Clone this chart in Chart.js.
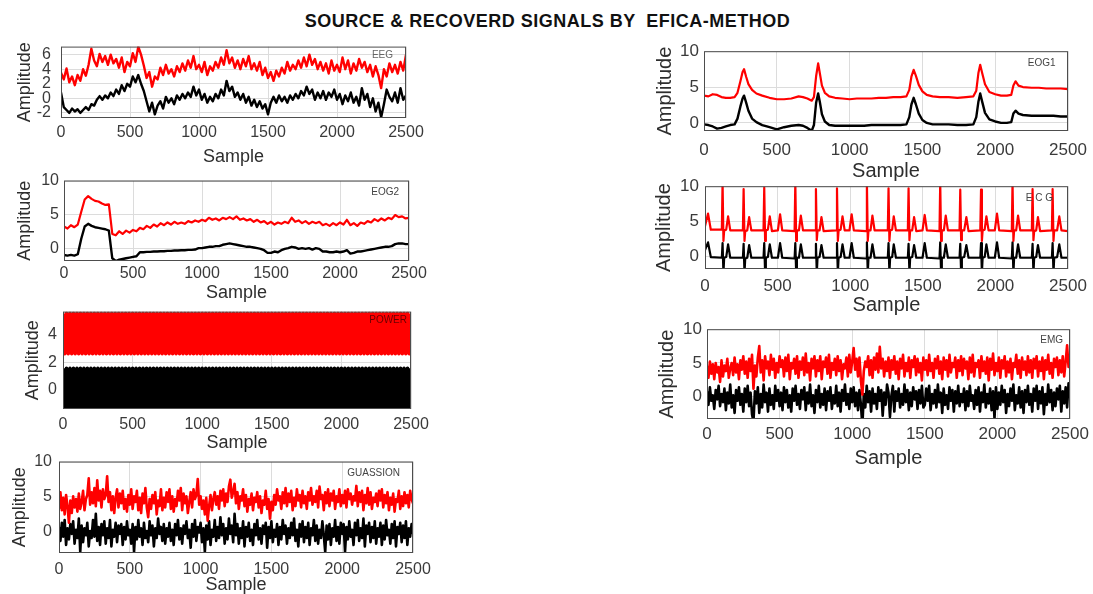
<!DOCTYPE html>
<html><head><meta charset="utf-8">
<script src="https://cdn.jsdelivr.net/npm/chart.js@4.4.1/dist/chart.umd.min.js"></script>
<style>
html,body{margin:0;padding:0;background:#fff;}
body{width:1093px;height:594px;overflow:hidden;position:relative;font-family:"Liberation Sans",Arial,Helvetica,sans-serif;}
#title{position:absolute;left:0;top:12px;width:1095px;text-align:center;font-weight:bold;font-size:18px;line-height:18px;letter-spacing:0.5px;color:#111;white-space:pre;}
canvas{position:absolute;}
</style></head>
<body>
<div id="title">SOURCE &amp; RECOVERD SIGNALS BY  EFICA-METHOD</div>
<canvas id="cEEG"></canvas><canvas id="cEOG2"></canvas><canvas id="cPOWER"></canvas><canvas id="cGUASS"></canvas>
<canvas id="cEOG1"></canvas><canvas id="cECG"></canvas><canvas id="cEMG"></canvas>
<script>
// ---------- tick labels ----------
const xTicks = [0, 500, 1000, 1500, 2000, 2500];
const eegTicks = [-2, 0, 2, 4, 6];
const tenTicks = [0, 5, 10];
const powerTicks = [0, 2, 4];

// ---------- EEG (one value every 20 samples) ----------
const eegRecovered = [3.5,2.6,4.1,2.2,3.0, 1.8,3.2,2.4,4.0,3.1, 4.6,6.8,5.2,4.4,6.1, 5.0,5.8,4.6,6.0,4.8,
 5.4,4.2,5.6,3.6,5.0, 4.4,6.2,5.0,7.1,6.0, 4.5,2.8,3.6,1.6,3.0, 2.6,4.2,3.2,4.6,3.4, 4.0,3.0,4.4,3.6,4.8,
 3.8,5.2,4.2,5.8,4.0, 4.6,3.6,5.0,3.2,4.4, 3.8,5.0,4.2,5.6,4.6, 6.6,4.8,5.6,4.2,5.2, 4.0,5.4,4.4,5.8,4.0,
 4.8,3.8,5.0,3.2,4.2, 2.8,3.6,2.4,3.8,3.0, 4.2,3.4,5.0,3.8,4.6, 4.0,5.2,4.2,5.6,4.4, 6.0,4.6,5.4,4.0,5.0,
 3.8,4.8,3.4,5.2,3.8, 4.6,3.6,5.6,4.0,5.2, 3.4,4.8,3.8,5.4,4.2, 5.0,3.6,4.6,3.0,4.4, 3.2,1.4,4.0,3.0,4.8,
 3.6,4.6,3.4,5.0,3.8, 6.0];
const eegSource = [0.8,-1.2,-1.6,-2.0,-1.4, -1.8,-1.5,-2.0,-1.6,-1.2, -1.6,-0.8,-1.0,-0.2,0.3, -0.2,0.4,0.0,0.8,0.3,
 1.2,0.6,1.8,1.0,2.0, 1.6,3.0,2.2,3.2,2.0, 1.0,-0.4,-1.8,-0.6,-2.2, -1.0,-0.4,-1.4,0.2,-0.6, 0.0,-0.8,0.4,-0.2,0.6,
 0.0,0.8,0.2,1.6,0.4, 1.2,-0.2,0.6,-0.6,0.2, -0.4,0.6,0.0,1.2,0.4, 2.4,1.0,1.6,0.2,0.8, -0.2,0.6,-0.6,0.2,-1.0,
 -0.2,-1.2,-0.4,-1.4,-0.8, -2.2,-0.6,0.2,-0.6,0.4, -0.4,0.2,-0.6,0.4,-0.2, 0.6,0.0,1.0,0.4,1.6, 0.6,1.2,-0.2,0.8,0.0,
 1.0,-0.2,0.8,0.2,1.2, -0.2,0.6,-0.8,0.4,-0.4, 0.8,-0.6,0.2,-1.0,1.4, -0.2,0.6,-1.2,0.0,-1.8, -0.6,-2.6,-0.8,1.2,0.2,
 -0.4,0.8,-0.6,1.4,-0.2, 0.4];

// ---------- EOG2 (one value every 25 samples) ----------
const eog2Recovered = [3.2,2.9,3.4,3.1,3.5,5.4,7.2,7.7,7.3,7.0,6.9,6.6,6.4,6.5,2.1,1.9,2.5,2.1,2.6,2.3,
 2.7,2.5,3.0,2.8,3.3,3.0,3.5,3.2,3.7,3.4,3.8,3.5,3.9,3.6,3.8,3.6,4.0,3.8,4.1,3.9,
 4.2,4.0,4.5,4.2,4.4,4.1,4.5,4.3,4.6,4.3,4.7,4.2,4.4,4.1,4.3,3.9,4.2,3.8,4.0,3.6,
 3.9,3.5,3.8,3.6,3.9,3.7,4.5,3.9,4.1,3.7,4.0,3.6,3.9,3.7,3.9,3.4,3.6,3.3,3.7,3.4,
 3.8,3.5,4.2,3.4,3.7,3.3,3.8,3.6,4.0,3.8,4.3,4.0,4.4,4.1,4.5,4.3,4.9,4.6,4.7,4.4,4.5];
const eog2Source = [-1.0,-1.1,-1.0,-1.1,-0.9,1.4,3.2,3.6,3.3,3.1,3.0,2.9,2.8,2.6,-1.5,-1.9,-1.7,-1.6,-1.5,-1.4,
 -1.3,-1.2,-0.6,-0.6,-0.55,-0.55,-0.5,-0.5,-0.45,-0.45,-0.4,-0.4,-0.35,-0.35,-0.3,-0.3,-0.25,-0.25,-0.2,0.0,
 0.0,0.1,0.2,0.2,0.3,0.3,0.5,0.6,0.7,0.6,0.5,0.4,0.3,0.2,0.2,0.1,0.0,-0.1,-0.3,-0.7,
 -0.7,-0.5,-0.6,-0.3,-0.1,0.0,0.2,0.1,-0.1,0.0,-0.1,0.0,-0.2,0.0,-0.1,-0.5,-0.5,-0.6,-0.6,-0.5,
 -0.6,-0.5,-0.3,-0.8,-0.7,-0.5,-0.5,-0.4,-0.3,-0.2,-0.1,0.0,0.1,0.2,0.2,0.3,0.6,0.7,0.7,0.6,0.6];

// ---------- POWER (one value every 12.5 samples) ----------
const powerRecovered = [
5.5,2.6,5.5,2.6,5.5,2.6,5.5,2.6,5.5,2.6,5.5,2.6,5.5,2.6,5.5,2.6,5.5,2.6,5.5,2.6,
5.5,2.6,5.5,2.6,5.5,2.6,5.5,2.6,5.5,2.6,5.5,2.6,5.5,2.6,5.5,2.6,5.5,2.6,5.5,2.6,
5.5,2.6,5.5,2.6,5.5,2.6,5.5,2.6,5.5,2.6,5.5,2.6,5.5,2.6,5.5,2.6,5.5,2.6,5.5,2.6,
5.5,2.6,5.5,2.6,5.5,2.6,5.5,2.6,5.5,2.6,5.5,2.6,5.5,2.6,5.5,2.6,5.5,2.6,5.5,2.6,
5.5,2.6,5.5,2.6,5.5,2.6,5.5,2.6,5.5,2.6,5.5,2.6,5.5,2.6,5.5,2.6,5.5,2.6,5.5,2.6,
5.5,2.6,5.5,2.6,5.5,2.6,5.5,2.6,5.5,2.6,5.5,2.6,5.5,2.6,5.5,2.6,5.5,2.6,5.5,2.6,
5.5,2.6,5.5,2.6,5.5,2.6,5.5,2.6,5.5,2.6,5.5,2.6,5.5,2.6,5.5,2.6,5.5,2.6,5.5,2.6,
5.5,2.6,5.5,2.6,5.5,2.6,5.5,2.6,5.5,2.6,5.5,2.6,5.5,2.6,5.5,2.6,5.5,2.6,5.5,2.6,
5.5,2.6,5.5,2.6,5.5,2.6,5.5,2.6,5.5,2.6,5.5,2.6,5.5,2.6,5.5,2.6,5.5,2.6,5.5,2.6,
5.5,2.6,5.5,2.6,5.5,2.6,5.5,2.6,5.5,2.6,5.5,2.6,5.5,2.6,5.5,2.6,5.5,2.6,5.5,2.6,
5.5];
const powerSource = [
1.55,-1.3,1.55,-1.3,1.55,-1.3,1.55,-1.3,1.55,-1.3,1.55,-1.3,1.55,-1.3,1.55,-1.3,1.55,-1.3,1.55,-1.3,
1.55,-1.3,1.55,-1.3,1.55,-1.3,1.55,-1.3,1.55,-1.3,1.55,-1.3,1.55,-1.3,1.55,-1.3,1.55,-1.3,1.55,-1.3,
1.55,-1.3,1.55,-1.3,1.55,-1.3,1.55,-1.3,1.55,-1.3,1.55,-1.3,1.55,-1.3,1.55,-1.3,1.55,-1.3,1.55,-1.3,
1.55,-1.3,1.55,-1.3,1.55,-1.3,1.55,-1.3,1.55,-1.3,1.55,-1.3,1.55,-1.3,1.55,-1.3,1.55,-1.3,1.55,-1.3,
1.55,-1.3,1.55,-1.3,1.55,-1.3,1.55,-1.3,1.55,-1.3,1.55,-1.3,1.55,-1.3,1.55,-1.3,1.55,-1.3,1.55,-1.3,
1.55,-1.3,1.55,-1.3,1.55,-1.3,1.55,-1.3,1.55,-1.3,1.55,-1.3,1.55,-1.3,1.55,-1.3,1.55,-1.3,1.55,-1.3,
1.55,-1.3,1.55,-1.3,1.55,-1.3,1.55,-1.3,1.55,-1.3,1.55,-1.3,1.55,-1.3,1.55,-1.3,1.55,-1.3,1.55,-1.3,
1.55,-1.3,1.55,-1.3,1.55,-1.3,1.55,-1.3,1.55,-1.3,1.55,-1.3,1.55,-1.3,1.55,-1.3,1.55,-1.3,1.55,-1.3,
1.55,-1.3,1.55,-1.3,1.55,-1.3,1.55,-1.3,1.55,-1.3,1.55,-1.3,1.55,-1.3,1.55,-1.3,1.55,-1.3,1.55,-1.3,
1.55,-1.3,1.55,-1.3,1.55,-1.3,1.55,-1.3,1.55,-1.3,1.55,-1.3,1.55,-1.3,1.55,-1.3,1.55,-1.3,1.55,-1.3,
1.55];

// ---------- GUASSION (one value every 10 samples) ----------
const guassRecovered = [
3.2,5.6,3.0,4.8,2.4,5.2,3.6,1.2,4.4,2.6,5.0,3.4,4.6,2.8,5.4,3.2,4.2,5.8,3.0,4.6,5.2,7.6,3.8,5.6,4.0,
6.2,3.6,7.3,4.4,5.8,3.4,6.0,4.6,5.2,7.9,4.2,5.6,3.0,5.0,2.6,4.8,6.0,3.4,5.4,4.0,5.8,3.2,4.6,2.8,5.2,
3.8,6.0,3.2,5.0,4.2,5.8,3.0,4.8,2.6,5.4,4.0,6.2,3.4,2.0,4.6,3.2,5.2,4.0,5.6,2.4,4.4,3.6,6.0,3.0,4.8,
3.4,5.6,4.2,6.0,3.2,5.0,2.8,4.6,3.6,5.8,4.4,6.2,3.0,5.4,4.0,5.0,2.6,4.2,5.6,3.4,6.0,4.6,5.2,7.5,3.8,
5.0,3.2,4.4,2.4,4.8,1.5,3.6,5.2,3.0,4.6,5.6,3.8,5.0,3.2,5.8,4.4,6.0,3.6,5.4,4.2,6.4,7.4,4.8,5.6,6.8,
4.0,5.6,3.2,5.0,4.4,6.0,3.6,5.2,2.8,4.6,3.8,5.4,3.0,4.8,4.2,5.6,3.4,5.0,2.6,4.4,3.8,5.8,3.2,4.6,1.8,
4.2,3.0,5.2,3.8,6.0,4.4,5.0,3.2,5.6,4.0,6.2,3.6,5.4,4.2,5.8,3.0,4.8,3.6,6.0,4.4,5.2,3.4,5.8,4.0,5.0,
3.2,5.6,4.4,6.2,3.8,5.0,4.2,5.8,3.4,6.4,4.6,5.2,3.0,5.6,4.0,6.0,3.6,5.4,4.4,5.8,3.2,5.0,4.2,6.0,3.6,
5.2,4.0,5.8,3.4,6.0,4.6,5.4,3.8,5.0,4.4,6.5,3.6,5.6,4.2,5.8,3.0,5.2,4.0,6.2,3.8,5.6,3.2,4.8,4.2,5.4,
3.6,5.8,4.4,6.0,3.4,5.2,4.0,5.6,3.0,4.8,3.8,5.4,2.8,4.6,4.2,5.8,3.2,5.0,3.6,5.6,4.0,5.2,3.4,5.8,4.6,
4.0];
const guassSource = [
0.6,-1.4,1.2,-0.8,1.6,-2.0,0.4,-1.2,1.0,-0.4,1.4,-1.8,0.2,-1.0,1.8,-3.0,0.8,-1.6,0.4,-0.6,1.2,-2.2,0.0,-1.0,1.6,
-0.8,2.5,-1.4,0.6,-2.0,1.0,-0.6,1.4,-1.8,0.4,-1.0,1.6,-2.2,0.2,-0.8,1.2,-1.6,0.8,-0.4,1.0,-2.0,0.6,-1.2,1.4,-0.6,
0.2,-1.8,1.0,-3.0,0.6,-1.2,1.6,-0.8,0.4,-2.0,1.2,-1.0,0.0,-1.6,1.4,-0.6,0.8,-2.2,0.4,-1.0,1.8,-0.4,0.6,-1.4,1.0,
-1.8,0.4,-0.8,1.2,-1.4,0.2,-2.0,1.0,-0.6,1.6,-1.2,0.4,-1.8,0.8,-0.4,1.4,-1.0,0.2,-2.4,1.0,-0.8,1.6,-1.4,0.6,-0.2,
1.2,-1.6,0.4,-3.0,0.8,-1.2,1.4,-2.0,0.2,-0.8,1.6,-1.4,0.6,-1.0,2.0,-0.6,1.0,-1.8,0.4,-1.2,1.8,-0.4,0.8,-1.6,2.5,
-0.6,1.0,-1.8,0.4,-1.0,1.4,-2.2,0.6,-0.8,1.2,-1.4,0.2,-2.0,1.0,-0.6,1.6,-1.2,0.4,-1.8,0.8,-0.4,1.2,-2.4,0.6,-1.0,
1.4,-1.6,0.2,-0.8,1.0,-2.0,0.6,-1.2,1.6,-0.4,0.8,-1.8,0.4,-1.0,1.2,-0.6,1.8,-1.4,0.2,-2.2,1.0,-0.8,1.4,-1.6,0.6,
-1.0,1.2,-2.0,0.4,-0.6,1.6,-1.4,0.8,-1.8,0.2,-1.0,1.4,-0.6,-3.0,0.8,-1.2,1.0,-2.0,0.4,-0.8,1.6,-1.4,0.6,-1.8,1.2,
-0.4,1.0,-3.0,0.6,-1.2,1.4,-0.8,0.2,-2.0,1.2,-0.6,1.6,-1.4,0.4,-1.0,1.8,-2.2,0.8,-0.4,1.2,-1.6,0.6,-1.0,1.4,-1.8,
0.4,-0.8,1.2,-2.0,0.8,-1.2,1.6,-0.6,0.2,-1.8,1.0,-1.0,1.4,-2.2,0.6,-0.4,1.2,-1.6,0.8,-1.0,1.4,-2.0,0.4,-0.8,1.0,
-0.4];

// ---------- EOG1 (sample positions + values) ----------
const eog1Samples = [0,30,60,90,120,150,180,210, 230,250,265,275,290,305,330,360, 400,450,500,550,600,650,680,710,
 740,755,770,784,795,810,830,860, 900,950,1000,1050,1100,1150,1200,1250, 1300,1350,1390,1410,1425,1440,1455,1475,
 1500,1530,1570,1620,1680,1740,1800,1850, 1870,1885,1897,1910,1930,1960,2000,2040, 2080,2110,2125,2140,2160,2190,2250,2300,
 2350,2400,2450,2500];
const eog1Recovered = [3.8,3.7,4.0,3.9,3.6,3.5,3.5,3.6, 4.2,5.8,7.1,7.5,6.4,5.4,4.6,4.1, 3.8,3.5,3.3,3.3,3.4,3.7,3.6,3.4,
 3.1,3.6,6.5,8.3,7.0,5.2,4.2,3.7, 3.5,3.4,3.3,3.4,3.4,3.4,3.5,3.5, 3.6,3.6,3.7,4.6,6.5,7.4,6.6,5.3,
 4.4,3.9,3.7,3.6,3.6,3.5,3.6,3.7, 4.5,7.0,8.1,7.0,5.4,4.3,4.0,3.8, 3.8,3.9,5.2,5.8,5.2,5.0,4.9,4.9,
 4.8,4.8,4.8,4.7];
const eog1Source = [-0.2,-0.3,-0.5,-0.8,-0.7,-0.5,-0.3,-0.2, 0.6,2.3,3.4,3.8,2.8,1.7,0.6,0.1, -0.3,-0.6,-0.9,-0.6,-0.4,-0.3,-0.4,-0.7,
 -1.1,-0.3,2.8,4.1,3.0,1.2,0.2,-0.3, -0.4,-0.4,-0.4,-0.4,-0.4,-0.3,-0.3,-0.3, -0.3,-0.3,-0.2,0.8,2.6,3.5,2.6,1.3,
 0.4,0.0,-0.2,-0.2,-0.2,-0.3,-0.3,-0.2, 0.8,3.0,4.1,3.0,1.4,0.5,0.2,0.0, 0.0,0.1,1.3,1.7,1.3,1.1,1.0,1.0,
 1.0,1.0,0.9,0.9];

// ---------- ECG (sample positions + values) ----------
const ecgSamples = [0,21,40,
 116,121,127,132,146,159,174, 261,266,272,277,291,304,319, 403,408,414,419,433,446,461, 502,517,532,
 617,622,628,633,647,660,675, 759,764,770,775,789,802,817, 904,909,915,920,934,947,962, 995,1010,1025,
 1110,1115,1121,1126,1140,1153,1168, 1259,1264,1270,1275,1289,1300,1315, 1397,1402,1408,1413,1427,1440,1455, 1498,1513,1528,
 1615,1620,1626,1631,1645,1658,1673, 1753,1758,1764,1769,1785,1800,1815, 1896,1901,1907,1912,1926,1938,1953, 1996,2011,2026,
 2113,2118,2124,2129,2143,2156,2171, 2251,2256,2262,2267,2281,2293,2308, 2389,2394,2400,2405,2425,2440,2455,
 2500];
const ecgRecovered = [4.3,6.1,3.8,
 3.8,10.6,2.2,3.7,3.8,5.7,3.7, 3.7,9.6,2.2,3.6,3.7,5.6,3.7, 3.7,9.8,2.2,3.7,3.8,5.7,3.6, 3.7,6.0,3.7,
 3.6,10.6,2.2,3.7,3.7,5.8,3.7, 3.7,9.6,2.3,3.7,3.7,5.6,3.6, 3.7,9.7,2.2,3.7,3.8,5.7,3.7, 3.7,6.0,3.7,
 3.6,10.6,2.2,3.7,3.7,5.8,3.7, 3.7,9.7,2.2,3.7,3.8,5.7,3.7, 3.7,9.7,2.3,3.7,3.7,5.6,3.6, 3.7,5.9,3.7,
 3.6,10.6,2.2,3.7,3.7,5.8,3.7, 3.7,9.5,2.3,3.7,3.7,5.6,3.6, 3.7,9.5,2.2,3.7,3.8,5.7,3.7, 3.7,6.1,3.7,
 3.6,10.6,2.2,3.7,3.7,5.8,3.7, 3.7,9.6,2.3,3.6,3.7,5.6,3.6, 3.7,9.6,2.2,3.7,3.7,5.7,3.7,
 3.6];
const ecgSource = [0.9,2.0,-0.1,
 -0.2,1.9,-2.4,-0.2,-0.1,1.7,-0.2, -0.2,1.8,-2.4,-0.3,-0.2,1.6,-0.2, -0.2,1.9,-2.4,-0.2,-0.1,1.7,-0.2, -0.2,1.9,-0.2,
 -0.3,1.9,-2.4,-0.2,-0.2,1.7,-0.2, -0.2,1.8,-2.4,-0.2,-0.1,1.6,-0.2, -0.2,1.9,-2.4,-0.2,-0.1,1.7,-0.2, -0.2,1.9,-0.2,
 -0.3,2.0,-2.4,-0.2,-0.2,1.7,-0.2, -0.2,1.9,-2.4,-0.2,-0.1,1.7,-0.2, -0.2,1.8,-2.4,-0.2,-0.1,1.6,-0.2, -0.2,1.9,-0.2,
 -0.3,2.0,-2.4,-0.2,-0.2,1.7,-0.2, -0.2,1.8,-2.4,-0.2,-0.1,1.6,-0.2, -0.2,1.9,-2.4,-0.2,-0.1,1.7,-0.2, -0.2,2.0,-0.2,
 -0.3,2.0,-2.4,-0.2,-0.2,1.7,-0.2, -0.2,1.8,-2.4,-0.2,-0.1,1.6,-0.2, -0.2,1.9,-2.4,-0.2,-0.1,1.7,-0.2,
 -0.2];

// ---------- EMG (one value every 10 samples) ----------
const emgRecovered = [
4.6,2.8,5.2,3.4,4.8,2.6,5.0,3.6,4.4,2.2,5.4,3.0,4.6,3.8,5.6,2.8,4.2,5.0,3.2,5.8,3.6,4.8,2.6,5.4,4.0,
6.0,3.4,5.2,2.8,5.6,3.8,6.2,1.2,4.6,3.0,5.8,7.5,3.6,5.4,2.4,6.0,4.2,5.2,3.2,6.2,4.0,5.6,2.8,5.0,3.6,
6.0,4.4,5.4,3.0,5.8,3.8,6.2,2.6,5.0,4.2,5.6,3.4,6.0,2.8,5.2,4.0,5.8,3.2,6.4,3.6,5.0,2.4,5.6,4.2,6.0,
3.0,5.4,3.8,6.0,2.6,5.2,4.4,5.8,3.4,6.2,2.8,5.0,4.0,5.6,3.2,6.0,3.8,5.4,2.6,4.8,4.2,5.8,3.0,6.2,3.6,
5.2,7.2,4.0,5.6,3.0,5.8,2.4,0.3,3.8,5.2,4.4,6.0,3.2,5.4,2.8,5.8,4.0,6.4,3.6,7.4,4.2,5.6,3.0,5.2,3.8,
5.8,2.8,5.4,4.0,6.0,3.4,5.2,2.6,5.6,4.2,6.2,3.0,5.0,3.8,5.8,2.8,5.4,4.4,6.0,3.2,5.6,3.6,5.0,2.4,5.8,
4.0,5.4,3.2,6.2,3.8,5.0,2.8,5.6,4.2,6.0,3.4,5.2,2.6,5.8,4.0,5.4,3.0,6.2,3.6,5.0,4.4,5.8,2.8,5.4,3.8,
6.0,3.2,5.6,4.2,5.2,2.6,5.8,3.6,6.2,3.0,5.0,4.4,5.4,2.8,6.0,3.8,5.2,3.4,5.8,2.4,5.6,4.0,6.4,3.2,5.0,
3.8,5.8,2.8,5.4,4.2,6.0,3.0,5.2,3.6,5.6,2.6,5.0,4.4,6.2,3.4,5.4,2.8,5.8,4.0,5.2,3.2,6.0,3.6,5.4,2.8,
5.6,4.2,6.0,3.0,5.2,3.8,5.8,2.6,5.4,4.0,6.2,3.4,5.0,2.8,5.6,4.4,5.8,3.2,5.4,3.6,6.0,3.0,5.2,7.6,4.4,
6.0];
const emgSource = [
0.8,-1.2,1.4,-0.6,0.2,-1.8,1.0,-0.4,1.6,-1.4,0.4,-0.8,1.2,-2.0,0.6,-1.0,1.8,-1.6,0.2,-2.4,1.0,-0.6,1.4,-1.2,0.4,
-2.2,1.2,-0.8,1.6,-1.4,0.6,-2.6,-3.7,0.8,-1.0,1.4,-2.4,0.4,-1.6,1.8,-0.8,0.6,-2.2,1.2,-1.2,0.2,-1.8,1.6,-0.6,1.0,
-1.4,0.6,-2.0,1.4,-0.8,1.0,-1.6,0.2,-2.2,1.2,-0.6,1.6,-1.2,0.4,-1.8,1.0,-0.4,1.4,-2.0,0.6,-1.0,1.8,-1.4,0.2,-2.4,
1.0,-0.8,1.6,-1.6,0.4,-1.2,1.2,-2.0,0.8,-0.6,1.4,-1.8,0.2,-1.0,1.6,-1.4,0.6,-2.2,1.0,-0.6,1.8,-1.2,0.4,-1.8,1.2,
-0.8,1.4,-1.4,0.6,-2.0,1.0,-1.2,-4.3,0.4,-1.6,1.6,-0.8,0.8,-2.2,1.2,-1.0,0.4,-1.8,1.4,-0.6,1.0,-2.8,0.6,-1.2,1.8,
0.6,-3.0,0.2,1.6,-2.2,0.8,-0.6,1.2,-1.6,0.4,-1.2,1.8,-0.8,1.0,-2.0,0.6,-1.4,1.4,-0.4,0.8,-1.8,1.0,-1.0,1.6,-1.6,
-1.2,1.2,-0.6,1.6,-2.0,0.4,-1.0,1.0,-1.6,1.8,-0.8,0.6,-2.4,1.2,-1.2,0.2,-1.8,1.4,-0.6,1.0,-2.2,0.8,-1.0,1.6,-1.4,
0.4,-0.8,1.2,-2.0,0.8,-1.4,1.6,-0.6,0.2,-1.8,1.0,-1.2,1.4,-2.2,0.6,-0.8,1.8,-1.6,0.4,-1.0,1.2,-2.0,0.8,-3.2,1.4,
-1.8,0.6,-1.2,1.6,-0.8,1.0,-2.4,0.4,-1.4,1.2,-0.6,1.8,-2.0,0.2,-1.0,1.4,-1.6,0.8,-2.4,1.0,-0.8,1.6,-1.2,0.4,-2.2,
1.2,-0.6,1.6,-1.8,0.8,-1.0,1.4,-2.6,0.4,-1.2,1.8,-0.8,1.0,-2.0,0.6,-1.4,1.2,-0.4,1.6,-2.2,0.8,-1.0,1.4,-1.6,2.0,
0.2];

// ---------- helpers ----------
const FONT = '"Liberation Sans", Arial, Helvetica, sans-serif';
const SAMPLE_MAX = 2500;
function evenly(values) {            // values recorded at equal sample steps
  const step = SAMPLE_MAX / (values.length - 1);
  return values.map((v, i) => ({ x: i * step, y: v }));
}
function atSamples(samples, values) { return samples.map((s, i) => ({ x: s, y: values[i] })); }

const boxAndLabel = {
  id: 'boxAndLabel',
  afterDatasetsDraw(chart, args, o) {
    const { ctx, chartArea: a } = chart;
    ctx.save();
    ctx.strokeStyle = '#4d4d4d';
    ctx.lineWidth = 1;
    ctx.strokeRect(a.left + 0.5, a.top + 0.5, a.right - a.left - 1, a.bottom - a.top - 1);
    if (o && o.text) {
      ctx.font = o.size + 'px ' + FONT;
      ctx.fillStyle = o.color;
      ctx.textAlign = 'right';
      ctx.textBaseline = 'middle';
      ctx.fillText(o.text, a.right - o.dx, a.top + o.dy);
    }
    ctx.restore();
  }
};

function makeChart(id, g, yTicks, label, series) {
  const tickLH = g.tickSize * 1.2, titleLH = g.titleSize * 1.2;
  const W = Math.round(g.yTitleOff + titleLH / 2);
  const H = Math.round(g.xTitleOff + titleLH / 2);
  const T = 12, R = 28;
  const cv = document.getElementById(id);
  cv.width = W + (g.r - g.l) + R;
  cv.height = T + (g.b - g.t) + H;
  cv.style.left = (g.l - W) + 'px';
  cv.style.top = (g.t - T) + 'px';
  const axisFont = { family: FONT, size: g.tickSize };
  const titleFont = { family: FONT, size: g.titleSize };
  new Chart(cv, {
    type: 'line',
    data: {
      datasets: series.map(s => ({
        data: s.data, borderColor: s.color, borderWidth: s.width,
        pointRadius: 0, tension: 0, fill: false, clip: 0, borderJoinStyle: 'round'
      }))
    },
    options: {
      responsive: false, animation: false, devicePixelRatio: 1, events: [],
      parsing: false, normalized: true,
      layout: { autoPadding: false, padding: { left: 0, top: T, right: R, bottom: 0 } },
      plugins: { legend: { display: false }, tooltip: { enabled: false }, boxAndLabel: label },
      scales: {
        x: {
          type: 'linear', min: 0, max: SAMPLE_MAX,
          afterBuildTicks: s => { s.ticks = xTicks.map(v => ({ value: v })); },
          afterFit: s => { s.height = H; },
          grid: { color: '#dcdcdc', drawTicks: false }, border: { display: false },
          ticks: { padding: g.xLabelOff - tickLH / 2, color: '#3a3a3a', font: axisFont, maxRotation: 0, autoSkip: false, callback: v => String(v) },
          title: { display: true, text: 'Sample', color: '#2e2e2e', font: titleFont, padding: 0 }
        },
        y: {
          type: 'linear', min: g.ymin, max: g.ymax,
          afterBuildTicks: s => { s.ticks = yTicks.map(v => ({ value: v })); },
          afterFit: s => { s.width = W; },
          grid: { color: '#dcdcdc', drawTicks: false }, border: { display: false },
          ticks: { padding: g.yGap, color: '#3a3a3a', font: axisFont, autoSkip: false, callback: v => String(v) },
          title: { display: true, text: 'Amplitude', color: '#2e2e2e', font: titleFont, padding: 0 }
        }
      }
    },
    plugins: [boxAndLabel]
  });
}

const RED = '#ff0000', BLACK = '#000000';

makeChart('cEEG', { l: 61, t: 39, r: 406, b: 118, ymin: -2.7, ymax: 7.1, yGap: 10, yTitleOff: 36, xLabelOff: 15, xTitleOff: 39, tickSize: 16, titleSize: 18 },
  eegTicks, { text: 'EEG', size: 10, color: '#666', dx: 13, dy: 8.5 },
  [{ data: evenly(eegRecovered), color: RED, width: 2.4 }, { data: evenly(eegSource), color: BLACK, width: 2.4 }]);

makeChart('cEOG2', { l: 64, t: 178, r: 409, b: 261, ymin: -1.9, ymax: 10, yGap: 5, yTitleOff: 39, xLabelOff: 13, xTitleOff: 32, tickSize: 16, titleSize: 18 },
  tenTicks, { text: 'EOG2', size: 10, color: '#444', dx: 10, dy: 11.5 },
  [{ data: evenly(eog2Recovered), color: RED, width: 2.2 }, { data: evenly(eog2Source), color: BLACK, width: 2.4 }]);

makeChart('cPOWER', { l: 63, t: 308, r: 411, b: 409, ymin: -1.37, ymax: 5.63, yGap: 6, yTitleOff: 30, xLabelOff: 16, xTitleOff: 34, tickSize: 16, titleSize: 18 },
  powerTicks, { text: 'POWER', size: 10, color: '#6a0000', dx: 4, dy: 8.5 },
  [{ data: evenly(powerRecovered), color: RED, width: 3.6 }, { data: evenly(powerSource), color: BLACK, width: 3.6 }]);

makeChart('cGUASS', { l: 59, t: 457, r: 413, b: 553, ymin: -3.15, ymax: 10, yGap: 7, yTitleOff: 39, xLabelOff: 17, xTitleOff: 32, tickSize: 16, titleSize: 18 },
  tenTicks, { text: 'GUASSION', size: 10, color: '#444', dx: 13, dy: 11.5 },
  [{ data: evenly(guassRecovered), color: RED, width: 2.6 }, { data: evenly(guassSource), color: BLACK, width: 2.6 }]);

makeChart('cEOG1', { l: 704, t: 48, r: 1068, b: 131, ymin: -1.13, ymax: 10, yGap: 5, yTitleOff: 39, xLabelOff: 19, xTitleOff: 40, tickSize: 17, titleSize: 20 },
  tenTicks, { text: 'EOG1', size: 10, color: '#444', dx: 12.5, dy: 12 },
  [{ data: atSamples(eog1Samples, eog1Recovered), color: RED, width: 2.2 }, { data: atSamples(eog1Samples, eog1Source), color: BLACK, width: 2.4 }]);

makeChart('cECG', { l: 705, t: 182, r: 1068, b: 269, ymin: -1.8, ymax: 10, yGap: 6, yTitleOff: 41, xLabelOff: 17.5, xTitleOff: 36, tickSize: 17, titleSize: 20 },
  tenTicks, { text: 'E C G', size: 10, color: '#444', dx: 15, dy: 12.5 },
  [{ data: atSamples(ecgSamples, ecgRecovered), color: RED, width: 2.2 }, { data: atSamples(ecgSamples, ecgSource), color: BLACK, width: 2.2 }]);

makeChart('cEMG', { l: 707, t: 326, r: 1070, b: 419, ymin: -3.3, ymax: 10, yGap: 5, yTitleOff: 39.5, xLabelOff: 15.5, xTitleOff: 39, tickSize: 17, titleSize: 20 },
  tenTicks, { text: 'EMG', size: 10, color: '#444', dx: 7, dy: 11.5 },
  [{ data: evenly(emgRecovered), color: RED, width: 2.6 }, { data: evenly(emgSource), color: BLACK, width: 2.6 }]);
</script>
</body></html>
